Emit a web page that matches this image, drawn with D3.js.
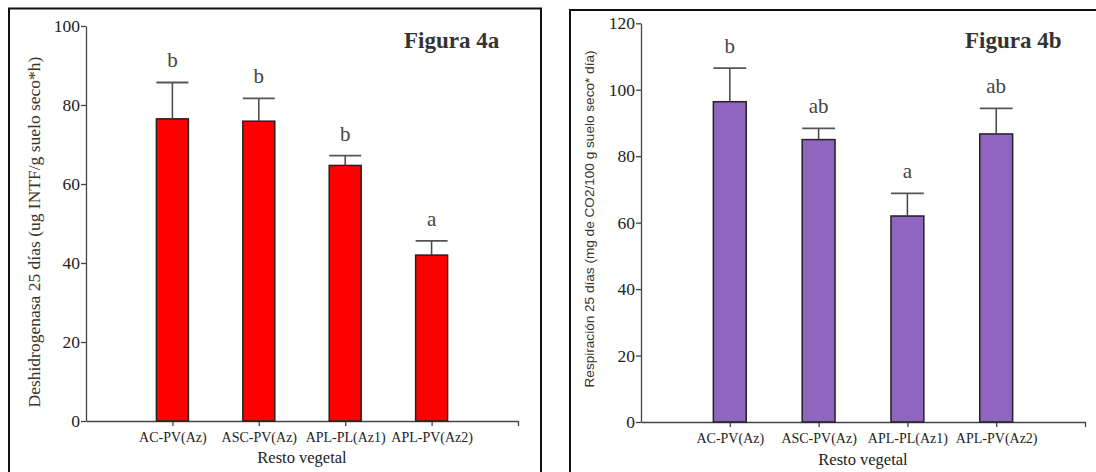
<!DOCTYPE html>
<html>
<head>
<meta charset="utf-8">
<script src="https://cdn.jsdelivr.net/npm/d3@7"></script>
<style>
    body { margin: 0; background: #fff; }
    svg { display: block; }
</style>
</head>
<body>
<div id="chart"></div>
<script>
// data
const categories = ['AC-PV(Az)', 'ASC-PV(Az)', 'APL-PL(Az1)', 'APL-PV(Az2)'];

const dhMeans = [76.5, 75.9, 64.7, 42.0];
const dhErr = [9.2, 5.8, 2.5, 3.6];
const dhLetters = ['b', 'b', 'b', 'a'];
const dhTicks = [0, 20, 40, 60, 80, 100];

const respMeans = [96.4, 85.0, 62.0, 86.7];
const respErr = [10.1, 3.4, 6.8, 7.7];
const respLetters = ['b', 'ab', 'a', 'ab'];
const respTicks = [0, 20, 40, 60, 80, 100, 120];

const SERIF = '"Liberation Serif", "Times New Roman", serif',
    SANS = '"Liberation Sans", Arial, sans-serif';

let svg = d3.select('#chart').append('svg')
    .attr('width', 1096)
    .attr('height', 472);

svg.append('rect').attr('width', 1096).attr('height', 472).style('fill', '#fff');

function drawPanel(cfg) {

    let g = svg.append('g');

    // outer frame (runs past the bottom of the picture)
    g.append('rect')
        .attr('x', cfg.frame[0]).attr('y', cfg.frame[1])
        .attr('width', cfg.frame[2]).attr('height', 520)
        .style('fill', 'none')
        .style('stroke', '#111')
        .style('stroke-width', 2);

    let x = d3.scaleLinear().domain([0, categories.length + 1]).range([cfg.left, cfg.right]);
    let y = d3.scaleLinear().domain([0, cfg.max]).range([cfg.bottom, cfg.top]);
    let bw = (x(1) - x(0)) * 0.37;

    // y axis
    let yAxis = g.append('g')
        .attr('transform', 'translate(' + cfg.left + ',0)')
        .call(d3.axisLeft(y).tickValues(cfg.ticks).tickSize(5).tickSizeOuter(0).tickPadding(1));
    yAxis.selectAll('text')
        .style('font-family', SERIF)
        .style('font-size', '17.5px')
        .style('fill', '#222');

    // x axis
    let xAxis = g.append('g')
        .attr('transform', 'translate(0,' + cfg.bottom + ')')
        .call(d3.axisBottom(x)
            .tickValues([1, 2, 3, 4, 5])
            .tickSize(5)
            .tickSizeOuter(0)
            .tickFormat(function(d) { return categories[d - 1] || ''; }));
    xAxis.selectAll('text')
        .attr('dy', null)
        .attr('y', 21)
        .style('font-family', SERIF)
        .style('font-size', '14px')
        .style('fill', '#222');

    [yAxis, xAxis].forEach(function(a) {
        a.selectAll('path, line').style('stroke', '#444').style('stroke-width', 1.3);
    });

    // bars
    g.selectAll('.bar')
        .data(cfg.means)
        .enter()
        .append('rect')
        .classed('bar', true)
        .attr('x', function(d, i) { return x(i + 1) - bw / 2; })
        .attr('y', function(d) { return y(d); })
        .attr('width', bw)
        .attr('height', function(d) { return y(0) - y(d); })
        .style('fill', cfg.color)
        .style('stroke', '#222')
        .style('stroke-width', 1.5);

    // error bars, upper half only
    cfg.means.forEach(function(d, i) {
        let cx = x(i + 1),
            top = y(d + cfg.err[i]);
        g.append('line')
            .attr('x1', cx).attr('x2', cx)
            .attr('y1', y(d)).attr('y2', top)
            .style('stroke', '#444').style('stroke-width', 1.5);
        g.append('line')
            .attr('x1', cx - bw / 2).attr('x2', cx + bw / 2)
            .attr('y1', top).attr('y2', top)
            .style('stroke', '#555').style('stroke-width', 1.8);
        g.append('text')
            .attr('x', cx)
            .attr('y', top - 15)
            .attr('text-anchor', 'middle')
            .style('font-family', SERIF)
            .style('font-size', '21px')
            .style('fill', '#444')
            .text(cfg.letters[i]);
    });

    // axis titles
    g.append('text')
        .attr('x', (cfg.left + cfg.right) / 2)
        .attr('y', cfg.xTitleY)
        .attr('text-anchor', 'middle')
        .style('font-family', SERIF)
        .style('font-size', '16.5px')
        .style('fill', '#222')
        .text('Resto vegetal');

    g.append('text')
        .attr('transform', 'translate(' + cfg.yTitleX + ',' + cfg.yTitleMid + ') rotate(-90)')
        .attr('text-anchor', 'middle')
        .style('font-family', cfg.yTitleFont)
        .style('font-size', cfg.yTitleSize)
        .style('fill', '#3a3528')
        .text(cfg.yTitle);

    // figure tag
    g.append('text')
        .attr('x', cfg.tagX)
        .attr('y', 48)
        .style('font-family', SERIF)
        .style('font-size', '23px')
        .style('font-weight', 'bold')
        .style('fill', '#333')
        .text(cfg.tag);
}

drawPanel({
    frame: [9, 8.5, 532],
    left: 86, right: 518, top: 26, bottom: 421,
    max: 100, ticks: dhTicks,
    means: dhMeans, err: dhErr, letters: dhLetters,
    color: '#ff0000',
    xTitleY: 463,
    yTitle: 'Deshidrogenasa 25 días (ug INTF/g suelo seco*h)',
    yTitleFont: SERIF, yTitleSize: '17.5px',
    yTitleX: 40, yTitleMid: 232,
    tag: 'Figura 4a', tagX: 404
});

drawPanel({
    frame: [570, 10, 560],
    left: 641, right: 1085, top: 23.3, bottom: 422,
    max: 120, ticks: respTicks,
    means: respMeans, err: respErr, letters: respLetters,
    color: '#8f65bf',
    xTitleY: 465,
    yTitle: 'Respiración 25 días (mg de CO2/100 g suelo seco* día)',
    yTitleFont: SANS, yTitleSize: '13.6px',
    yTitleX: 594, yTitleMid: 219,
    tag: 'Figura 4b', tagX: 965
});
</script>
</body>
</html>
